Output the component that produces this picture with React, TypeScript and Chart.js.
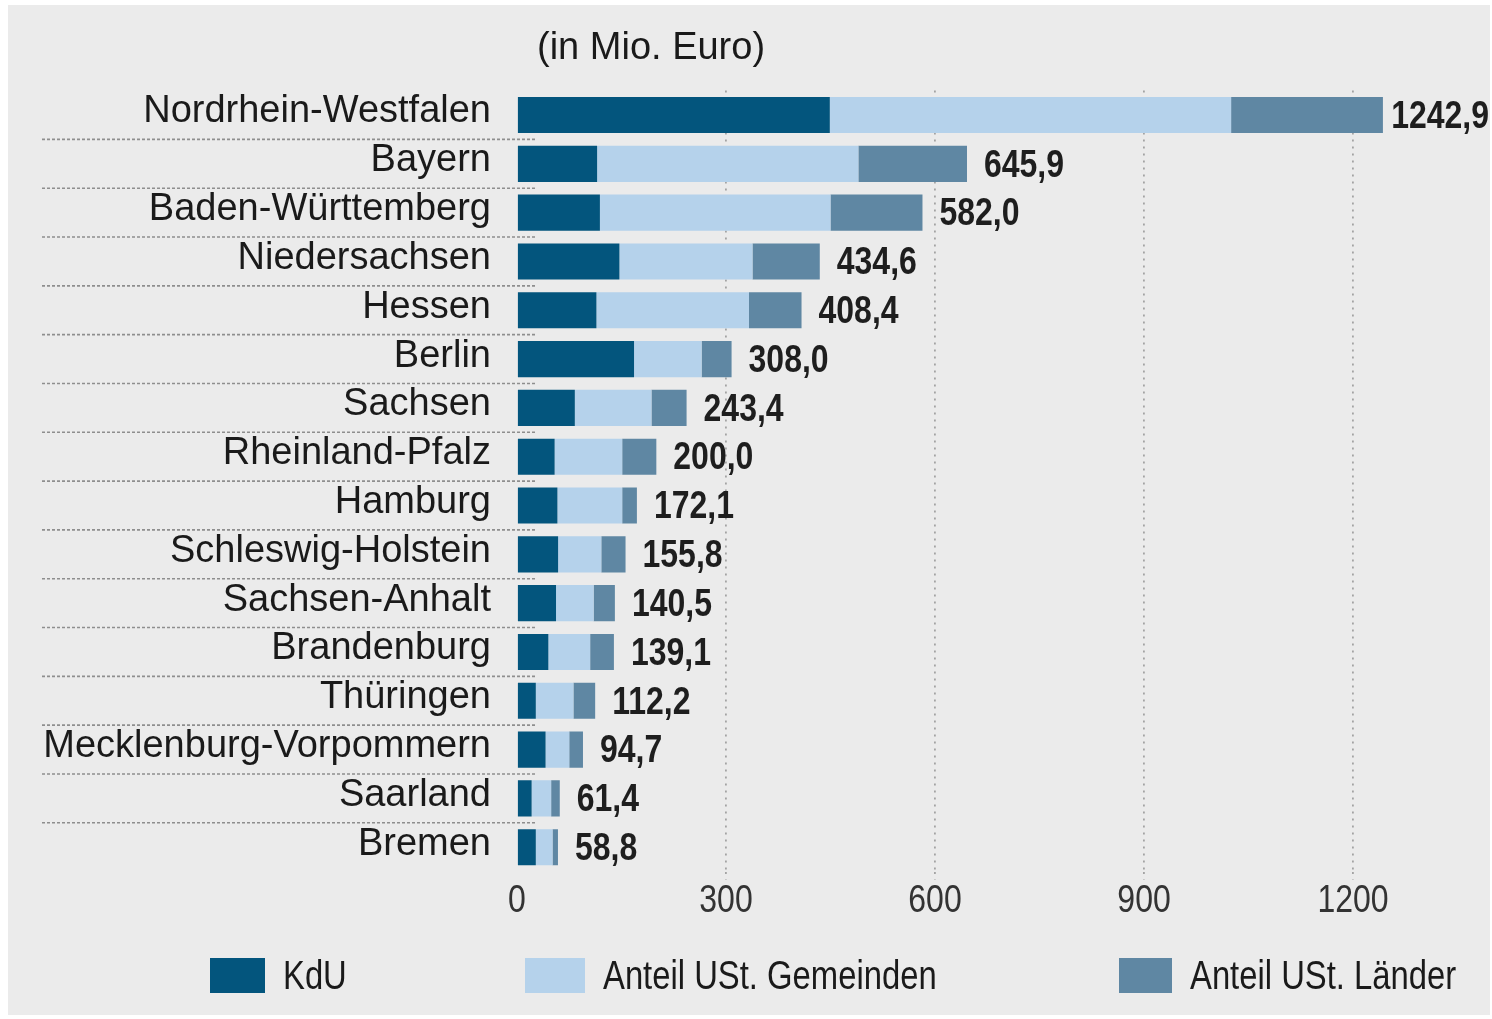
import React, { useEffect, useRef } from "react";
import { Chart, registerables } from "chart.js";

Chart.register(...registerables);

const categories = [
  "Nordrhein-Westfalen",
  "Bayern",
  "Baden-Württemberg",
  "Niedersachsen",
  "Hessen",
  "Berlin",
  "Sachsen",
  "Rheinland-Pfalz",
  "Hamburg",
  "Schleswig-Holstein",
  "Sachsen-Anhalt",
  "Brandenburg",
  "Thüringen",
  "Mecklenburg-Vorpommern",
  "Saarland",
  "Bremen",
];

const kdu = [449, 115, 119, 147, 114, 168, 83, 54, 58, 59, 56, 45, 27, 41, 21, 27];
const ustGemeinden = [576, 375, 331, 191, 219, 97, 110, 97, 93, 62, 54, 60, 54, 34, 28, 24];
const ustLaender = [217.9, 155.9, 132, 96.6, 75.4, 43, 50.4, 49, 21.1, 34.8, 30.5, 34.1, 31.2, 19.7, 12.4, 7.8];
const totalLabels = ["1242,9", "645,9", "582,0", "434,6", "408,4", "308,0", "243,4", "200,0", "172,1", "155,8", "140,5", "139,1", "112,2", "94,7", "61,4", "58,8"];

const seriesNames = ["KdU", "Anteil USt. Gemeinden", "Anteil USt. Länder"];
const seriesColors = ["#03557d", "#b5d2eb", "#5f87a3"];
const tickValues = [0, 300, 600, 900, 1200];
const tickLabels = ["0", "300", "600", "900", "1200"];
const axisMax = 1300;
const unitTitle = "(in Mio. Euro)";

const SANS = "'Liberation Sans', Arial, Helvetica, sans-serif";
const NARROW_SCALE = 0.82;

const W = 1482;
const H = 1010;

function drawNarrow(ctx: any, text: string, x: number, y: number, align: "left" | "center" | "right") {
  const w = ctx.measureText(text).width * NARROW_SCALE;
  let left = x;
  if (align === "center") left = x - w / 2;
  if (align === "right") left = x - w;
  ctx.save();
  ctx.translate(left, y);
  ctx.scale(NARROW_SCALE, 1);
  ctx.textAlign = "left";
  ctx.fillText(text, 0, 0);
  ctx.restore();
  return w;
}

const separatorPlugin = {
  id: "separators",
  afterDraw(chart: any) {
    const ctx = chart.ctx;
    const y = chart.scales.y;
    const area = chart.chartArea;
    ctx.save();
    ctx.strokeStyle = "#8e8e8e";
    ctx.lineWidth = 1.6;
    ctx.setLineDash([3, 2]);
    for (let i = 0; i < categories.length - 1; i++) {
      const py = (y.getPixelForValue(i) + y.getPixelForValue(i + 1)) / 2;
      ctx.beginPath();
      ctx.moveTo(34, py);
      ctx.lineTo(area.left + 18, py);
      ctx.stroke();
    }
    ctx.restore();
  },
};

const narrowTextPlugin = {
  id: "narrowText",
  afterDatasetsDraw(chart: any) {
    const ctx = chart.ctx;
    const xs = chart.scales.x;
    const ys = chart.scales.y;
    const area = chart.chartArea;
    ctx.save();
    // totals at bar ends
    ctx.font = "bold 39px " + SANS;
    ctx.fillStyle = "#1e1e1e";
    ctx.textBaseline = "middle";
    const meta = [0, 1, 2].map((k) => chart.getDatasetMeta(k));
    totalLabels.forEach((text, i) => {
      const barEnd = meta[2].data[i].x;
      const w = ctx.measureText(text).width * NARROW_SCALE;
      let x = barEnd + 17;
      if (x + w > chart.width - 1) x = chart.width - 1 - w;
      drawNarrow(ctx, text, x, ys.getPixelForValue(i) + 2, "left");
    });
    // x axis tick labels
    ctx.font = "39px " + SANS;
    ctx.fillStyle = "#333333";
    ctx.textBaseline = "middle";
    tickValues.forEach((v, i) => {
      drawNarrow(ctx, tickLabels[i], xs.getPixelForValue(v), area.bottom + 30, "center");
    });
    ctx.restore();
  },
};

export default function App() {
  const ref = useRef<HTMLCanvasElement | null>(null);

  useEffect(() => {
    if (!ref.current) return;
    const chart = new Chart(ref.current, {
      type: "bar",
      data: {
        labels: categories,
        datasets: [kdu, ustGemeinden, ustLaender].map((d, k) => ({
          label: seriesNames[k],
          data: d,
          backgroundColor: seriesColors[k],
          borderWidth: 0,
          barPercentage: 0.74,
          categoryPercentage: 1,
        })),
      },
      options: {
        indexAxis: "y",
        responsive: false,
        animation: false,
        devicePixelRatio: 1,
        layout: { padding: { top: 85.6, right: 67.3, bottom: 0, left: 0 } },
        plugins: {
          legend: { display: false },
          tooltip: { enabled: false },
          title: { display: false },
        },
        scales: {
          x: {
            stacked: true,
            min: 0,
            max: axisMax,
            position: "bottom",
            afterBuildTicks: (scale: any) => {
              scale.ticks = tickValues.map((v) => ({ value: v }));
            },
            afterFit: (scale: any) => {
              scale.height = H - 866.6;
            },
            border: { display: false, dash: [2, 5] },
            grid: {
              color: (c: any) => (c.tick && c.tick.value === 0 ? "rgba(0,0,0,0)" : "#a3a3a3"),
              lineWidth: 1.8,
              tickLength: 8,
              drawTicks: true,
              tickBorderDash: [2, 5],
            },
            ticks: { display: false },
          },
          y: {
            stacked: true,
            afterFit: (scale: any) => {
              scale.width = 509;
            },
            border: { display: false },
            grid: { display: false },
            ticks: {
              color: "#1a1a1a",
              padding: 18,
              labelOffset: -3,
              font: { family: SANS, size: 38 },
              autoSkip: false,
            },
          },
        },
      },
      plugins: [separatorPlugin, narrowTextPlugin],
    } as any);
    return () => chart.destroy();
  }, []);

  const legendLeft = [202, 517, 1111];
  const boxW = [55, 60, 53];

  return (
    <div
      style={{
        position: "absolute",
        left: 8,
        top: 5,
        width: W,
        height: H,
        background: "#ebebeb",
        overflow: "hidden",
      }}
    >
      <canvas ref={ref} width={W} height={H} style={{ position: "absolute", left: 0, top: 0, width: W, height: H }} />
      <div
        style={{
          position: "absolute",
          left: 529,
          top: 21,
          fontFamily: SANS,
          fontSize: 38,
          lineHeight: "40px",
          color: "#1a1a1a",
          whiteSpace: "nowrap",
        }}
      >
        {unitTitle}
      </div>
      {seriesNames.map((name, k) => (
        <div
          key={name}
          style={{
            position: "absolute",
            left: legendLeft[k],
            top: 952,
            height: 36,
            display: "flex",
            alignItems: "center",
            whiteSpace: "nowrap",
          }}
        >
          <div style={{ width: boxW[k], height: 35, background: seriesColors[k], marginRight: 18, flex: "none" }} />
          <span
            style={{
              fontFamily: SANS,
              fontSize: 40,
              color: "#1a1a1a",
              lineHeight: "40px",
              display: "inline-block",
              transform: `scaleX(${NARROW_SCALE})`,
              transformOrigin: "left center",
            }}
          >
            {name}
          </span>
        </div>
      ))}
    </div>
  );
}
